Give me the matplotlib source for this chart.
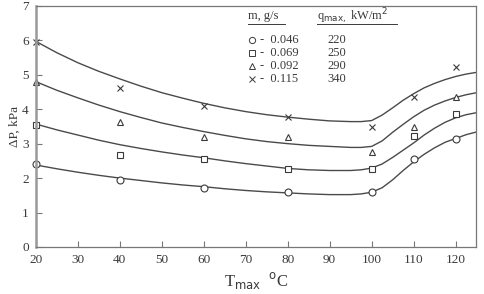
import numpy as np
import matplotlib.pyplot as plt

plt.rcParams['font.family'] = ['Liberation Serif', 'DejaVu Serif']

# measured points
t_pts = [20, 40, 60, 80, 100, 110, 120]
dp_046 = [2.41, 1.95, 1.72, 1.60, 1.60, 2.56, 3.14]
dp_069 = [3.55, 2.67, 2.56, 2.27, 2.27, 3.23, 3.87]
dp_092 = [4.80, 3.63, 3.20, 3.20, 2.76, 3.49, 4.36]
dp_115 = [5.96, 4.62, 4.10, 3.78, 3.49, 4.36, 5.23]

# fitted curves
t_fit = [20, 25, 30, 35, 40, 45, 50, 55, 60, 65, 70, 75, 80, 85, 90, 95,
         97.5, 100, 102.5, 105, 107.5, 110, 112.5, 115, 117.5, 120, 122.5, 125]
fit_046 = [2.38, 2.27, 2.17, 2.08, 2.00, 1.93, 1.86, 1.80, 1.75, 1.69, 1.64, 1.60, 1.57,
           1.54, 1.52, 1.52, 1.54, 1.59, 1.72, 1.95, 2.22, 2.47, 2.69, 2.88, 3.04, 3.15,
           3.26, 3.34]
fit_069 = [3.57, 3.40, 3.25, 3.10, 2.97, 2.86, 2.76, 2.67, 2.59, 2.50, 2.42, 2.35, 2.28,
           2.24, 2.22, 2.22, 2.24, 2.29, 2.41, 2.60, 2.81, 3.02, 3.25, 3.45, 3.62, 3.75,
           3.84, 3.90]
fit_092 = [4.80, 4.55, 4.33, 4.12, 3.93, 3.76, 3.60, 3.47, 3.35, 3.24, 3.14, 3.06, 3.00,
           2.95, 2.92, 2.89, 2.89, 2.92, 3.08, 3.33, 3.56, 3.78, 3.97, 4.12, 4.24, 4.34,
           4.42, 4.48]
fit_115 = [5.97, 5.64, 5.35, 5.10, 4.88, 4.67, 4.48, 4.32, 4.17, 4.04, 3.93, 3.84, 3.77,
           3.71, 3.66, 3.64, 3.64, 3.67, 3.83, 4.04, 4.26, 4.45, 4.62, 4.75, 4.86, 4.95,
           5.02, 5.07]

mass = ['0.046', '0.069', '0.092', '0.115']
qmax = ['220', '250', '290', '340']
markers = ['o', 's', '^', 'x']

ink = '#3a3a3a'
fig = plt.figure(figsize=(4.84, 2.94), dpi=100)
ax = fig.add_axes([0.074, 0.16, 0.909, 0.82])

for fit in [fit_046, fit_069, fit_092, fit_115]:
    ax.plot(t_fit, fit, color='#4a4a4a', lw=1.0)

for dp, m in zip([dp_046, dp_069, dp_092, dp_115], markers):
    ax.plot(t_pts, dp, ls='none', marker=m, ms=5, mfc='white', mec=ink, mew=0.8,
            clip_on=False)

ax.set_xlim(20, 124.8)
ax.set_ylim(0, 7)
ax.set_xticks(range(20, 121, 10))
ax.set_yticks(range(0, 8))
ax.tick_params(direction='in', length=4, width=0.8, colors='#777', labelcolor=ink,
               labelsize=9.5, pad=5)
for s in ['top', 'right', 'bottom']:
    ax.spines[s].set_color('#777')
    ax.spines[s].set_linewidth(0.9)
ax.spines['left'].set_color('#999')
ax.spines['left'].set_linewidth(1.8)

ax.set_ylabel('ΔP, kPa', fontsize=9.5, color=ink, labelpad=1)
ax.set_xlabel(r'T$_{\rm max}$  $^{\rm o}$C', fontsize=12, color=ink, labelpad=3)

# legend table
ax.text(0.482, 0.956, 'm, g/s', transform=ax.transAxes, fontsize=9, color=ink,
        va='center', ha='left')
ax.text(0.639, 0.956, r'q$_{\rm max,}$ kW/m$^2$', transform=ax.transAxes, fontsize=9,
        color=ink, va='center', ha='left')
ax.plot([0.482, 0.566], [0.925, 0.925], color=ink, lw=0.7, transform=ax.transAxes)
ax.plot([0.639, 0.82], [0.925, 0.925], color=ink, lw=0.7, transform=ax.transAxes)
for i, (m, mk, q) in enumerate(zip(mass, markers, qmax)):
    y = 0.859 - i * 0.054
    ax.plot([0.492], [y], marker=mk, ms=4.5, mfc='white', mec=ink, mew=0.7,
            transform=ax.transAxes)
    ax.text(0.51, y, '-  ' + m, transform=ax.transAxes, fontsize=9, color=ink,
            va='center', ha='left')
    ax.text(0.684, y, q, transform=ax.transAxes, fontsize=9, color=ink,
            va='center', ha='center')

fig.savefig('out.png', dpi=100)
